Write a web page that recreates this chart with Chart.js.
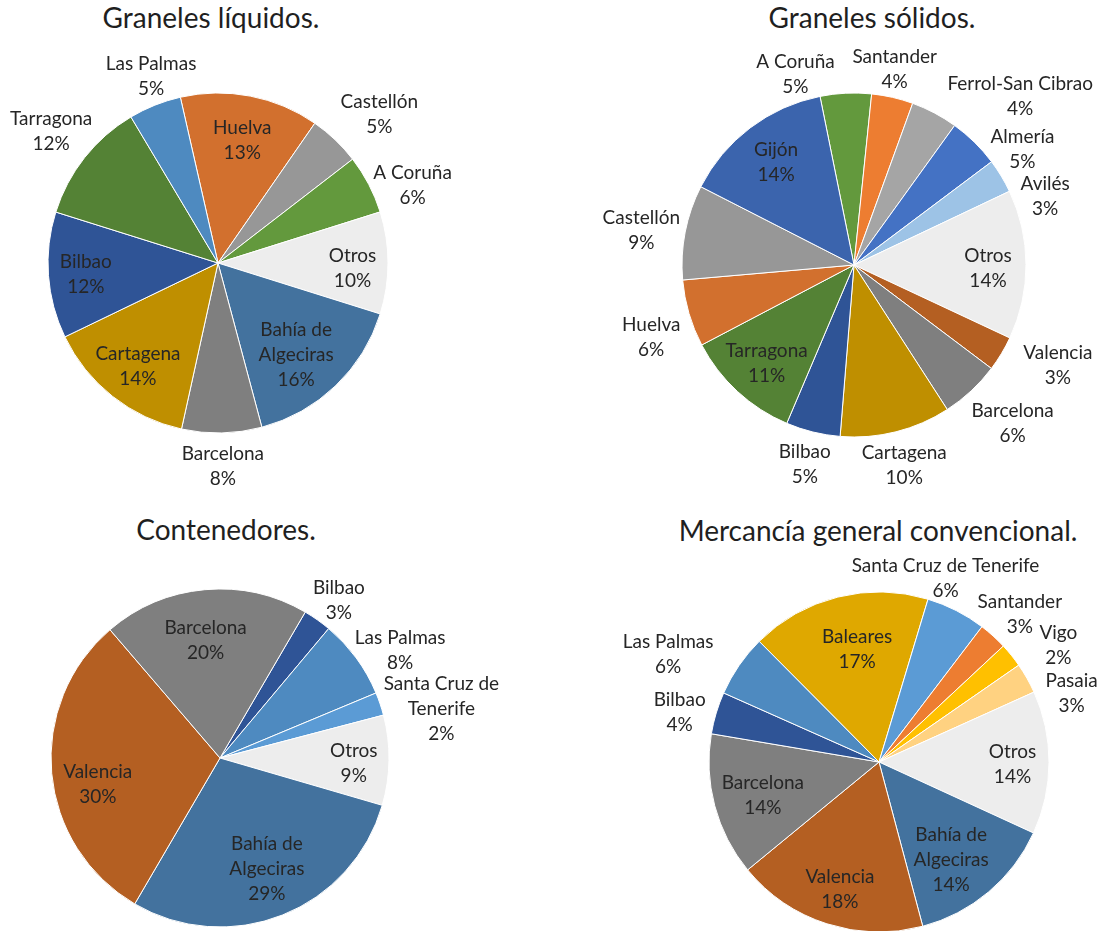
<!DOCTYPE html>
<html>
<head>
<meta charset="utf-8">
<script src="https://cdn.jsdelivr.net/npm/chart.js@4.4.1/dist/chart.umd.min.js"></script>
<style>
  body { margin: 0; background: #fff; width: 1105px; height: 931px; position: relative; overflow: hidden; font-family: Lato, sans-serif; }
  canvas { position: absolute; }
  .title { position: absolute; font-size: 28px; line-height: 34px; color: #1f1f1f; white-space: nowrap; transform: translateX(-50%); }
</style>
</head>
<body>
<div class="title" style="left:211px; top:0px">Graneles líquidos.</div>
<div class="title" style="left:872px; top:0px">Graneles sólidos.</div>
<div class="title" style="left:226px; top:512px">Contenedores.</div>
<div class="title" style="left:878px; top:513px">Mercancía general convencional.</div>

<canvas id="liquidos" width="600" height="480"></canvas>
<canvas id="solidos" width="600" height="480"></canvas>
<canvas id="contenedores" width="600" height="480"></canvas>
<canvas id="mercancia" width="600" height="480"></canvas>

<script>
// Graneles líquidos (% share, clockwise)
const liqLabels = ['Huelva', 'Castellón', 'A Coruña', 'Otros', 'Bahía de\nAlgeciras', 'Barcelona', 'Cartagena', 'Bilbao', 'Tarragona', 'Las Palmas'];
const liqValues = [13.2, 4.9, 5.6, 9.7, 16.0, 7.6, 14.4, 12.0, 11.6, 5.0];

// Graneles sólidos
const solLabels = ['A Coruña', 'Santander', 'Ferrol-San Cibrao', 'Almería', 'Avilés', 'Otros', 'Valencia', 'Barcelona', 'Cartagena', 'Bilbao', 'Tarragona', 'Huelva', 'Castellón', 'Gijón'];
const solValues = [4.8, 3.9, 4.4, 4.8, 3.2, 14.0, 3.3, 5.6, 10.4, 5.1, 10.9, 6.3, 8.9, 14.3];

// Contenedores
const conLabels = ['Bilbao', 'Las Palmas', 'Santa Cruz de\nTenerife', 'Otros', 'Bahía de\nAlgeciras', 'Valencia', 'Barcelona'];
const conValues = [2.7, 7.6, 2.2, 8.6, 28.9, 30.3, 19.7];

// Mercancía general convencional
const merLabels = ['Baleares', 'Santa Cruz de Tenerife', 'Santander', 'Vigo', 'Pasaia', 'Otros', 'Bahía de\nAlgeciras', 'Valencia', 'Barcelona', 'Bilbao', 'Las Palmas'];
const merValues = [17.1, 5.7, 2.7, 2.3, 2.9, 13.6, 14.0, 18.2, 13.6, 4.0, 5.9];

// port colours
const C = {
    huelva: '#D2702E', castellon: '#979797', coruna: '#63993D', otros: '#EDEDED',
    algeciras: '#43729E', barcelona: '#7F7F7F', cartagena: '#BF8F00', bilbao: '#2F5496',
    tarragona: '#548235', palmas: '#4E8AC0', santander: '#ED7D31', ferrol: '#A5A5A5',
    almeria: '#4472C4', aviles: '#9DC3E6', valencia: '#B45F22', gijon: '#3B64AD',
    tenerife: '#5B9BD5', baleares: '#DFA800', vigo: '#FFC000', pasaia: '#FFD281'
};

const LINE = 25;

// data labels: name + percentage, inside or just outside the slice
const sliceLabels = {
    id: 'sliceLabels',
    afterDatasetsDraw(chart, args, opts) {
        const ctx = chart.ctx;
        const ds = chart.data.datasets[0];
        const total = ds.data.reduce((a, b) => a + b, 0);
        ctx.save();
        ctx.font = '19px Lato';
        ctx.fillStyle = '#262626';
        ctx.textAlign = 'center';
        ctx.textBaseline = 'middle';
        chart.getDatasetMeta(0).data.forEach((arc, i) => {
            const name = chart.data.labels[i];
            const lines = name.split('\n').concat(Math.round(ds.data[i] / total * 100) + '%');
            const p = arc.getProps(['x', 'y', 'startAngle', 'endAngle', 'outerRadius'], true);
            const mid = (p.startAngle + p.endAngle) / 2;
            const c = Math.cos(mid), s = Math.sin(mid);
            const w = Math.max(...lines.map(l => ctx.measureText(l).width));
            const h = lines.length * LINE;
            let x, y;
            if (opts.outside.includes(name)) {
                const d = p.outerRadius + 8;
                x = p.x + c * (d + w / 2);
                y = p.y + s * (d + h / 2);
            } else {
                x = p.x + c * p.outerRadius * 0.75;
                y = p.y + s * p.outerRadius * 0.75;
            }
            // small shifts, like Excel's best fit
            const n = (opts.nudge || {})[name] || [0, 0];
            x += n[0];
            y += n[1];
            lines.forEach((l, k) => ctx.fillText(l, x, y + (k - (lines.length - 1) / 2) * LINE));
        });
        ctx.restore();
    }
};

function drawPie(id, cx, cy, r, labels, values, colors, rotation, outside, nudge) {
    const canvas = document.getElementById(id);
    canvas.style.left = (cx - canvas.width / 2) + 'px';
    canvas.style.top = (cy - canvas.height / 2) + 'px';
    return new Chart(canvas, {
        type: 'pie',
        data: {
            labels: labels,
            datasets: [{
                data: values,
                backgroundColor: colors,
                borderColor: '#ffffff',
                borderWidth: 1,
                hoverOffset: 0,
                radius: r
            }]
        },
        options: {
            responsive: false,
            animation: false,
            devicePixelRatio: 1,
            rotation: rotation,
            layout: { padding: 0 },
            plugins: {
                legend: { display: false },
                tooltip: { enabled: false },
                sliceLabels: { outside: outside, nudge: nudge }
            }
        },
        plugins: [sliceLabels]
    });
}

drawPie('liquidos', 218, 263, 170, liqLabels, liqValues,
    [C.huelva, C.castellon, C.coruna, C.otros, C.algeciras, C.barcelona, C.cartagena, C.bilbao, C.tarragona, C.palmas],
    -12.8, ['Las Palmas', 'Castellón', 'A Coruña', 'Barcelona', 'Tarragona'],
    {
        'Las Palmas': [16, 2], 'Castellón': [12, -1], 'A Coruña': [2, 16], 'Tarragona': [5, -6],
        'Huelva': [0, 3], 'Otros': [7, 5], 'Bahía de\nAlgeciras': [-10, 0], 'Cartagena': [-1, 3], 'Bilbao': [-5, 2]
    });

drawPie('solidos', 854, 265, 172, solLabels, solValues,
    [C.coruna, C.santander, C.ferrol, C.almeria, C.aviles, C.otros, C.valencia, C.barcelona, C.cartagena, C.bilbao, C.tarragona, C.huelva, C.castellon, C.gijon],
    -11.4, ['A Coruña', 'Santander', 'Ferrol-San Cibrao', 'Almería', 'Avilés', 'Valencia', 'Barcelona', 'Cartagena', 'Bilbao', 'Huelva', 'Castellón'],
    {
        'A Coruña': [-48, 14], 'Santander': [-9, 4], 'Ferrol-San Cibrao': [48, 13], 'Almería': [20, 31],
        'Avilés': [16, 37], 'Valencia': [20, -5], 'Barcelona': [8, 8], 'Cartagena': [-4, 2],
        'Huelva': [-2, 15], 'Castellón': [2, 5], 'Otros': [5, 4], 'Tarragona': [0, 4]
    });

drawPie('contenedores', 220, 758, 169, conLabels, conValues,
    [C.bilbao, C.palmas, C.tenerife, C.otros, C.algeciras, C.valencia, C.barcelona],
    30.3, ['Bilbao', 'Las Palmas', 'Santa Cruz de\nTenerife'],
    {
        'Bilbao': [2, 8], 'Las Palmas': [1, 12], 'Santa Cruz de\nTenerife': [-1, 20],
        'Barcelona': [-3, 9], 'Valencia': [4, 15], 'Bahía de\nAlgeciras': [0, -7], 'Otros': [7, 4]
    });

drawPie('mercancia', 879, 762, 170, merLabels, merValues,
    [C.baleares, C.tenerife, C.santander, C.vigo, C.pasaia, C.otros, C.algeciras, C.valencia, C.barcelona, C.bilbao, C.palmas],
    -44.8, ['Santa Cruz de Tenerife', 'Santander', 'Vigo', 'Pasaia', 'Bilbao', 'Las Palmas'],
    {
        'Santa Cruz de Tenerife': [-57, -3], 'Santander': [-7, 3], 'Vigo': [26, 11], 'Pasaia': [15, 31],
        'Las Palmas': [-27, 8], 'Bilbao': [-4, 9], 'Baleares': [9, 11], 'Otros': [6, 2],
        'Bahía de\nAlgeciras': [-10, 0], 'Valencia': [0, 6], 'Barcelona': [7, 1]
    });
</script>
</body>
</html>
